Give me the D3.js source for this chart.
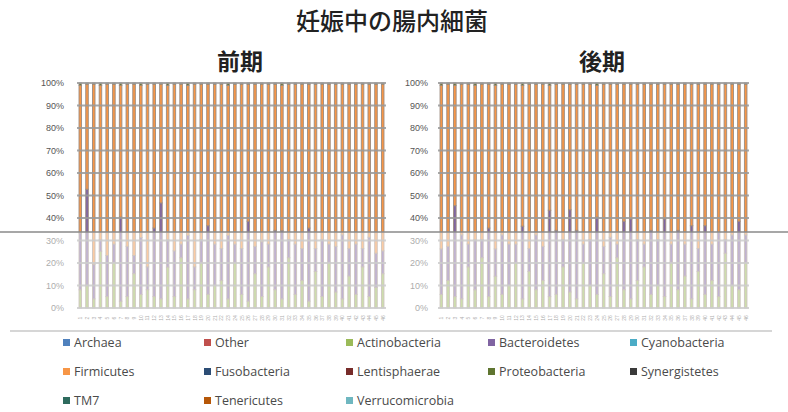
<!DOCTYPE html>
<html><head><meta charset="utf-8">
<script src="https://cdn.jsdelivr.net/npm/d3@7/dist/d3.min.js"></script>
<style>body{margin:0;background:#fff}svg{display:block}</style>
</head><body>
<script>
// ---- data ----
const title = "妊娠中の腸内細菌";
const panelTitles = ["前期", "後期"];
const seriesNames = ["Archaea","Other","Actinobacteria","Bacteroidetes","Cyanobacteria","Firmicutes","Fusobacteria","Lentisphaerae","Proteobacteria","Synergistetes","TM7","Tenericutes","Verrucomicrobia"];
const seriesColors = ["#4F81BD","#C0504D","#9BBB59","#8064A2","#4BACC6","#F79646","#2C4D75","#772C2A","#5F7530","#3A3A3A","#2E6B5E","#B65708","#6FB7C0"];
const yTicks = [0,0.1,0.2,0.3,0.4,0.5,0.6,0.7,0.8,0.9,1.0];
const samplesEarly = d3.range(1,47).map(String);
const samplesLate = d3.range(1,47).map(String);

const actinoEarly = [8,10,4,25,5,20,3,5,15,6,8,5,4,18,5,22,4,8,20,6,10,12,4,20,6,3,15,5,18,8,4,22,6,12,3,16,5,20,7,4,14,6,18,5,9,15];
const bacteroEarly = [25,42,15,5,18,8,37,22,8,25,10,30,42,12,20,6,28,10,10,30,18,14,28,8,20,35,12,24,10,26,30,8,22,14,32,10,25,8,20,28,12,22,8,26,15,10];
const firmiEarly = [65,46,79,68,75,70,58,71,75,67,80,63,52,68,73,70,66,80,68,62,70,72,66,70,72,60,71,69,70,64,64,68,70,72,63,72,68,70,71,66,72,70,72,67,74,73];
const proteoEarly = [1,0.5,0.5,1,0.5,0.5,1,0.5,0.5,1,0.5,0.5,0.5,1,0.5,0.5,1,0.5,0.5,0.5,0.5,0.5,1,0.5,0.5,0.5,0.5,0.5,0.5,0.5,1,0.5,0.5,0.5,0.5,0.5,0.5,0.5,0.5,0.5,0.5,0.5,0.5,0.5,0.5,0.5];

const actinoLate = [6,12,5,4,18,8,22,5,14,6,10,20,4,16,8,12,5,6,18,7,4,20,10,6,15,5,22,8,4,12,18,6,10,5,20,8,14,4,16,6,12,5,24,10,8,20];
const bacteroLate = [20,15,40,28,10,22,8,30,12,26,18,8,32,10,24,15,38,28,12,36,30,8,20,34,12,26,6,30,35,18,10,28,20,34,8,26,14,32,10,30,16,28,6,22,30,12];
const firmiLate = [72,71,53,66,70,68,68,63,72,66,70,70,62,72,66,71,55,64,68,55,64,70,68,58,71,67,70,60,59,68,70,64,68,59,70,64,70,62,72,62,70,65,68,66,60,66];
const proteoLate = [1,0.5,1,0.5,0.5,1,0.5,0.5,1,0.5,0.5,0.5,1,0.5,0.5,0.5,1,0.5,0.5,0.5,0.5,0.5,0.5,1,0.5,0.5,0.5,0.5,0.5,0.5,0.5,0.5,0.5,0.5,0.5,0.5,0.5,0.5,0.5,0.5,0.5,0.5,0.5,0.5,0.5,0.5];

function buildRows(samples, a, b, f, p){
  return samples.map((s,i)=>{
    const r = {sample:s};
    seriesNames.forEach(n=>r[n]=0);
    r.Actinobacteria=a[i]; r.Bacteroidetes=b[i]; r.Firmicutes=f[i]; r.Proteobacteria=p[i];
    return r;
  });
}
const panels = [
  {rows: buildRows(samplesEarly, actinoEarly, bacteroEarly, firmiEarly, proteoEarly), x0:77, x1:386, labelX:64, titleX:240},
  {rows: buildRows(samplesLate, actinoLate, bacteroLate, firmiLate, proteoLate), x0:438, x1:749, labelX:428, titleX:602}
];

const W=788,H=412;
const svg = d3.select("body").append("svg").attr("width",W).attr("height",H);
const color = d3.scaleOrdinal().domain(seriesNames).range(seriesColors);
const y = d3.scaleLinear().domain([0,1]).range([308,83]);
const stack = d3.stack().keys(seriesNames).offset(d3.stackOffsetExpand);

svg.append("text").attr("x",392).attr("y",30).attr("text-anchor","middle")
  .style("font-family","'Noto Sans CJK JP'").style("font-size","24px").style("font-weight","500").attr("fill","#222").text(title);

panels.forEach((p,pi)=>{
  const g = svg.append("g");
  const x = d3.scaleBand().domain(p.rows.map(d=>d.sample)).range([p.x0,p.x1]).paddingInner(0.62).paddingOuter(0.3);
  g.append("text").attr("x",p.titleX).attr("y",70).attr("text-anchor","middle")
    .style("font-family","'Noto Sans CJK JP'").style("font-size","23px").style("font-weight","700").attr("fill","#222").text(panelTitles[pi]);
  // y axis labels
  g.selectAll(".yl").data(yTicks).join("text").attr("x",p.labelX).attr("y",d=>y(d)+3)
    .attr("text-anchor","end").style("font-family","'Liberation Sans'").style("font-size","9px").attr("fill","#555")
    .text(d=>d3.format(".0%")(d));
  // bars
  const layers = stack(p.rows);
  g.selectAll(".layer").data(layers).join("g").attr("fill",d=>color(d.key))
    .selectAll("rect").data(d=>d).join("rect")
    .attr("x",d=>x(d.data.sample)).attr("width",x.bandwidth())
    .attr("y",d=>y(d[1])).attr("height",d=>Math.max(0,y(d[0])-y(d[1])))
    .attr("stroke","#9c8c80").attr("stroke-width",0.9);
  // gridlines on top
  g.selectAll(".gl").data(yTicks).join("line").attr("x1",p.x0).attr("x2",p.x1)
    .attr("y1",d=>y(d)).attr("y2",d=>y(d)).attr("stroke","#9a9a9a").attr("stroke-width",1.8).attr("opacity",0.85);
  // x labels
  g.selectAll(".xl").data(p.rows).join("text")
    .attr("transform",d=>`translate(${x(d.sample)+x.bandwidth()/2+2},${318}) rotate(-90)`)
    .attr("text-anchor","middle").style("font-family","'Liberation Sans'").style("font-size","5px").attr("fill","#555")
    .text(d=>d.sample);
});

// washed-out lower region and separator line
svg.append("rect").attr("x",0).attr("y",232).attr("width",W).attr("height",99).attr("fill","#fff").attr("opacity",0.5);
svg.append("line").attr("x1",0).attr("x2",W).attr("y1",232).attr("y2",232).attr("stroke","#8a8a8a").attr("stroke-width",1.5);
svg.append("line").attr("x1",10).attr("x2",772).attr("y1",331).attr("y2",331).attr("stroke","#c8c8c8").attr("stroke-width",1.5);

// legend
const legCols=[63,204,346,488,630], legRows=[343,372,401];
const lg = svg.append("g");
seriesNames.forEach((n,i)=>{
  const cx = legCols[i%5], cy = legRows[Math.floor(i/5)];
  lg.append("rect").attr("x",cx).attr("y",cy-4).attr("width",7).attr("height",7).attr("fill",color(n));
  lg.append("text").attr("x",cx+11).attr("y",cy+4).style("font-family","'Open Sans'").style("font-size","12.5px").attr("fill","#4a4a4a").text(n);
});
</script>
</body></html>
